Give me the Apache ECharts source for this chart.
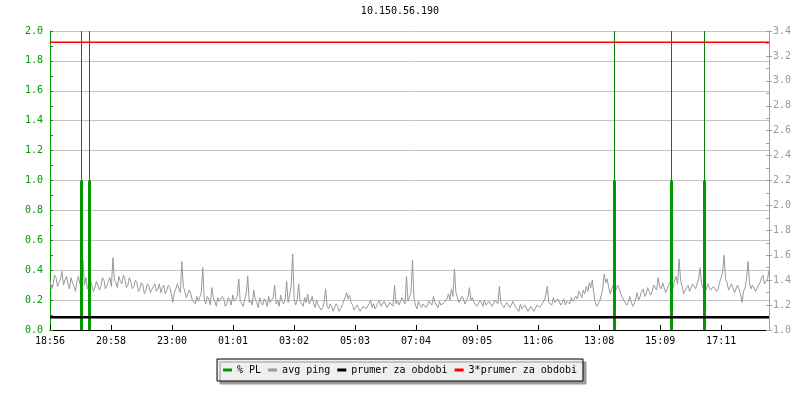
<!DOCTYPE html>
<html>
<head>
<meta charset="utf-8">
<script src="https://cdn.jsdelivr.net/npm/echarts@6/dist/echarts.min.js"></script>
<style>html,body{margin:0;padding:0;background:#fff}#c{width:800px;height:400px}</style>
</head>
<body>
<div id="c"></div>
<script>
const titleText = '10.150.56.190';
const timeLabels = ['18:56','20:58','23:00','01:01','03:02','05:03','07:04','09:05','11:06','13:08','15:09','17:11'];
const sampleStepMin = 3;
const pingValues = [
1.40,1.33,1.36,1.44,1.42,1.35,1.38,1.41,1.47,1.36,1.40,1.43,1.37,1.33,1.42,1.38,1.35,1.31,1.39,1.43,
1.37,1.46,1.56,1.36,1.42,1.33,1.37,1.40,1.39,1.31,1.34,1.39,1.38,1.32,1.35,1.42,1.40,1.33,1.36,1.39,
1.42,1.35,1.58,1.40,1.38,1.34,1.43,1.39,1.37,1.44,1.41,1.34,1.36,1.42,1.39,1.33,1.35,1.40,1.38,1.31,
1.33,1.38,1.36,1.29,1.32,1.37,1.35,1.30,1.31,1.35,1.37,1.31,1.33,1.37,1.30,1.34,1.36,1.29,1.32,1.36,
1.34,1.29,1.22,1.30,1.33,1.37,1.36,1.30,1.55,1.35,1.31,1.26,1.27,1.32,1.29,
1.24,
1.25,1.21,1.27,1.23,1.22,1.30,1.50,1.24,1.21,1.27,
1.25,1.20,1.34,1.26,1.23,1.19,1.26,1.23,1.22,1.27,
1.25,1.19,1.21,1.26,1.24,1.20,1.28,1.23,1.22,1.27,
1.41,1.23,1.21,1.19,1.25,1.29,1.43,1.22,1.24,1.20,
1.32,1.25,1.22,1.18,1.26,1.22,1.20,1.25,1.23,1.19,
1.27,1.22,1.21,1.26,1.36,1.21,1.24,1.19,1.28,1.23,
1.21,1.25,1.39,1.22,1.23,1.35,1.61,1.25,1.20,1.24,
1.37,1.23,1.22,1.19,1.26,1.22,1.29,1.21,1.23,1.27,
1.21,1.18,1.24,1.20,1.20,1.16,1.18,1.22,1.33,1.19,
1.17,1.21,1.19,1.15,1.18,1.21,
1.19,1.15,1.17,1.20,1.21,1.26,1.30,1.25,1.28,1.22,
1.20,1.16,1.17,1.20,1.19,1.15,1.16,1.19,1.20,1.17,
1.18,1.21,1.24,1.18,1.21,1.17,1.19,1.22,1.24,1.19,
1.20,1.23,1.22,1.18,1.19,1.22,1.23,1.19,1.36,1.21,
1.24,1.20,1.21,1.26,1.25,1.21,1.43,1.23,1.22,1.30,
1.56,1.25,1.20,1.17,1.23,1.20,1.18,1.21,1.22,1.18,
1.20,1.23,1.24,1.20,1.27,1.22,1.21,1.18,1.23,1.20,
1.19,1.22,1.22,1.25,1.29,1.24,1.33,1.27,1.49,1.30,
1.26,1.22,1.23,1.27,1.25,1.21,1.22,1.26,1.34,1.24,
1.26,1.22,1.23,1.19,1.21,1.24,
1.22,1.19,1.24,1.20,1.20,1.23,1.23,1.19,1.21,1.24,
1.25,1.21,1.35,1.22,1.22,1.18,1.19,1.22,1.23,1.18,
1.20,1.23,1.22,1.18,1.18,1.15,1.21,1.17,1.17,1.20,
1.19,1.15,1.16,1.19,1.18,1.15,1.17,1.20,1.21,1.18,
1.19,1.22,1.24,1.28,1.35,1.22,1.23,1.20,1.26,1.22,
1.21,1.25,1.24,1.20,1.22,1.25,1.20,1.23,1.24,1.21,
1.26,1.23,1.22,1.27,1.25,1.31,1.29,1.26,1.32,1.29,
1.35,1.31,1.38,1.34,1.40,1.30,1.22,1.19,1.20,1.23,
1.24,1.33,1.45,1.38,1.41,1.34,1.29,1.33,1.36,1.30,
1.31,1.36,1.33,1.29,1.28,1.24,
1.25,1.20,1.22,1.27,1.26,1.19,1.21,1.25,1.30,1.24,
1.27,1.31,1.33,1.27,1.29,1.34,1.35,1.28,1.31,1.36,
1.37,1.32,1.42,1.35,1.33,1.38,1.37,1.30,1.31,1.36,
1.39,1.32,1.34,1.40,1.43,1.37,1.57,1.40,1.35,1.29,
1.30,1.34,1.36,1.31,1.32,1.37,1.38,1.33,1.34,1.41,
1.50,1.37,1.36,1.30,1.32,1.37,1.38,1.32,1.31,1.35,
1.36,1.31,1.33,1.38,1.39,1.46,1.60,1.41,1.38,1.32,
1.33,1.37,1.36,1.30,1.31,1.36,1.35,1.29,1.22,1.31,
1.34,1.41,1.55,1.38,1.33,1.36,1.37,1.31,1.32,1.36,
1.38,1.42,1.44,1.37,1.36,1.41,1.48
];
const plTimes = [63, 78, 1130, 1244, 1310];
const plValues = [1.0, 1.0, 1.0, 1.0, 1.0];
const avgPing = 1.103;
const seriesNames = ['% PL', 'avg ping', 'prumer za obdobi', '3*prumer za obdobi'];

const totalMin = (pingValues.length - 1) * sampleStepMin;
const tickStep = 122.2;
const font = 'DejaVu Sans Mono';

const pingData = pingValues.map((v, i) => [i * sampleStepMin, v]);
const plData = plTimes.map((t, i) => [t, plValues[i]]);

const chart = echarts.init(document.getElementById('c'), null, {renderer: 'canvas'});
chart.setOption({
  animation: false,
  backgroundColor: '#ffffff',
  title: {
    text: titleText, left: 'center', top: 6, padding: 0,
    textStyle: {fontFamily: font, fontSize: 10, fontWeight: 'normal', color: '#000'}
  },
  legend: {
    data: seriesNames, left: 'center', top: 359, orient: 'horizontal',
    icon: 'rect', itemWidth: 9, itemHeight: 3, itemGap: 7,
    padding: [5, 6], backgroundColor: '#efefef', borderColor: '#000', borderWidth: 1,
    shadowColor: '#9a9a9a', shadowBlur: 0, shadowOffsetX: 3, shadowOffsetY: 3,
    textStyle: {fontFamily: font, fontSize: 10, color: '#000', lineHeight: 12}
  },
  grid: {left: 50, right: 31, top: 31, bottom: 70, containLabel: false},
  xAxis: {
    type: 'value', min: 0, max: totalMin, interval: tickStep,
    axisLine: {lineStyle: {color: '#000', width: 1}},
    axisTick: {inside: true, length: 5, lineStyle: {color: '#000'}},
    axisLabel: {
      fontFamily: font, fontSize: 10, color: '#000', margin: 6, showMaxLabel: false,
      formatter: v => { const k = Math.round(v / tickStep); return timeLabels[k] !== undefined && Math.abs(v - k * tickStep) < 1 ? timeLabels[k] : ''; }
    },
    splitLine: {show: false}
  },
  yAxis: [
    {
      type: 'value', position: 'left', min: 0, max: 2, interval: 0.2,
      axisLine: {show: true, lineStyle: {color: '#009900', width: 1}},
      axisTick: {show: true, inside: true, length: 3, lineStyle: {color: '#009900'}},
      minorTick: {show: true, splitNumber: 2, length: 3, lineStyle: {color: '#009900'}},
      axisLabel: {fontFamily: font, fontSize: 10, color: '#009900', margin: 7, formatter: v => v.toFixed(1)},
      splitLine: {show: true, lineStyle: {color: '#c4c4c4', width: 1}}
    },
    {
      type: 'value', position: 'right', min: 1, max: 3.4, interval: 0.2,
      axisLine: {show: true, lineStyle: {color: '#a0a0a0', width: 1}},
      axisTick: {show: true, inside: false, length: 3, lineStyle: {color: '#a0a0a0'}},
      axisLabel: {fontFamily: font, fontSize: 10, color: '#999999', margin: 4, formatter: v => v.toFixed(1)},
      splitLine: {show: false}
    },
    {
      type: 'value', position: 'right', min: 1, max: 3.4, interval: 0.1,
      axisLine: {show: false},
      axisTick: {show: true, inside: true, length: 3, lineStyle: {color: '#a0a0a0'}},
      axisLabel: {show: false},
      splitLine: {show: false}
    }
  ],
  series: [
    {
      name: seriesNames[1], type: 'line', yAxisIndex: 1, data: pingData,
      showSymbol: false, symbol: 'none', color: '#999999',
      lineStyle: {color: '#999999', width: 1}, z: 2
    },
    {
      name: seriesNames[0], type: 'custom', yAxisIndex: 0, data: plData, color: '#009900', z: 3,
      renderItem: function (params, api) {
        const t = api.value(0), v = api.value(1);
        const p0 = api.coord([t, 0]);
        const p1 = api.coord([t, v]);
        const top = params.coordSys.y;
        return {
          type: 'group',
          children: [
            {type: 'line', shape: {x1: Math.round(p0[0]) + 0.5, y1: p0[1], x2: Math.round(p0[0]) + 0.5, y2: top},
             style: {stroke: '#0a7d0a', lineWidth: 1}},
            {type: 'rect', shape: {x: Math.round(p0[0]) - 1, y: p1[1], width: 3, height: p0[1] - p1[1]},
             style: {fill: '#009900'}}
          ]
        };
      }
    },
    {
      name: seriesNames[2], type: 'line', yAxisIndex: 1,
      data: [[0, avgPing], [totalMin, avgPing]],
      showSymbol: false, symbol: 'none', color: '#000000',
      lineStyle: {color: '#000000', width: 2.5}, z: 4
    },
    {
      name: seriesNames[3], type: 'line', yAxisIndex: 1,
      data: [[0, avgPing * 3], [totalMin, avgPing * 3]],
      showSymbol: false, symbol: 'none', color: '#ff0000',
      lineStyle: {color: '#ff0000', width: 1.5}, z: 5
    }
  ]
});
</script>
</body>
</html>
